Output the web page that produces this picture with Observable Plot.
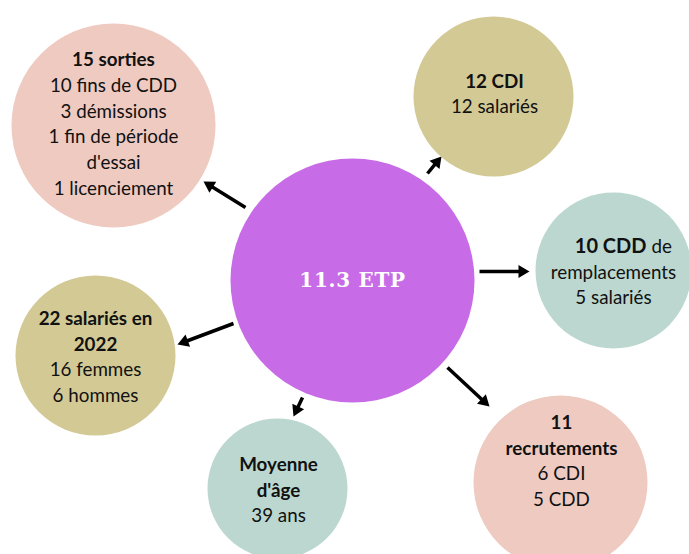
<!DOCTYPE html>
<html><head><meta charset="utf-8">
<script src="https://cdn.jsdelivr.net/npm/d3@7"></script>
<script src="https://cdn.jsdelivr.net/npm/@observablehq/plot@0.6"></script>
<style>body{margin:0;background:#fff}</style>
</head><body><div id="chart"></div>
<script>
// Nodes (bubbles)
const nodeIds   = ["centre", "sorties", "cdi", "cdd", "salaries", "age", "recrut"];
const nodeCx    = [352, 113, 493, 613, 95, 277, 560];
const nodeCy    = [280, 125, 96, 270, 355, 488, 482];
const nodeR     = [122, 102, 80, 78, 80, 70, 87];
const nodeFill  = ["#c76be6", "#eecac1", "#d2c995", "#bbd7cf", "#d2c995", "#bbd7cf", "#eecac1"];

// Text blocks: label lines per node, and whether each line is bold
const centreLabel = "11.3 ETP";
const textNodes = ["sorties", "cdi", "cdd", "salaries", "age", "recrut"];
const textLines = [
  ["15 sorties", "10 fins de CDD", "3 démissions", "1 fin de période", "d'essai", "1 licenciement"],
  ["12 CDI", "12 salariés"],
  ["10 CDD|de", "remplacements", "5 salariés"],
  ["22 salariés en", "2022", "16 femmes", "6 hommes"],
  ["Moyenne", "d'âge", "39 ans"],
  ["11", "recrutements", "6 CDI", "5 CDD"]
];
const textBold = [
  [1, 0, 0, 0, 0, 0],
  [1, 0],
  [2, 0, 0],
  [1, 1, 0, 0],
  [1, 1, 0],
  [1, 1, 0, 0]
];
const textCx = [113, 494, 613, 95, 278, 561];
const textCy = [124, 94, 272, 357, 490, 461];
const lineH = 25.8;

// Arrows from the centre to each bubble (tip at x2, y2)
const arrowX1 = [245, 427, 479, 233, 302, 447];
const arrowY1 = [207, 173, 271, 323, 397, 367];
const arrowX2 = [203, 441, 529, 177, 293, 489];
const arrowY2 = [181, 156, 271, 344, 416, 406];

const nodes = nodeIds.map((id, i) => ({id, x: nodeCx[i], y: nodeCy[i], r: nodeR[i], fill: nodeFill[i]}));
const headLen = 11, headHalf = 6.5;
const arrows = arrowX1.map((x1, i) => {
  const x2 = arrowX2[i], y2 = arrowY2[i], y1 = arrowY1[i];
  const dx = x2 - x1, dy = y2 - y1, L = Math.hypot(dx, dy);
  const ux = dx / L, uy = dy / L;
  return {x1, y1, x2, y2, lx: x2 - ux * (headLen - 1), ly: y2 - uy * (headLen - 1),
          rot: Math.atan2(dx, -dy) * 180 / Math.PI};
});
const lines = [];
textNodes.forEach((id, k) => {
  const n = textLines[k].length;
  textLines[k].forEach((t, i) => {
    lines.push({id, text: t, bold: textBold[k][i], x: textCx[k], y: textCy[k] + (i - (n - 1) / 2) * lineH});
  });
});
const mixed = lines.filter(d => d.bold === 2).map(d => {
  const [a, b] = d.text.split("|");
  return {a, b, x: d.x, y: d.y};
});

const triangle = {
  draw(context, l) {
    context.moveTo(0, -l);
    context.lineTo(-headHalf, 0);
    context.lineTo(headHalf, 0);
    context.closePath();
  }
};

const font = "Lato, 'Open Sans', sans-serif";
const fs = 18.8;
const chart = Plot.plot({
  width: 689, height: 554, margin: 0,
  x: {domain: [0, 689], axis: null},
  y: {domain: [0, 554], reverse: true, axis: null},
  r: {type: "identity"},
  marks: [
    Plot.link(arrows, {x1: "x1", y1: "y1", x2: "lx", y2: "ly", stroke: "#000", strokeWidth: 3.5}),
    Plot.vector(arrows, {x: "x2", y: "y2", rotate: "rot", length: headLen, anchor: "end", shape: triangle, fill: "#000", stroke: "none"}),
    Plot.dot(nodes, {x: "x", y: "y", r: "r", fill: "fill", stroke: "none"}),
    Plot.text([centreLabel], {x: () => nodeCx[0], y: () => nodeCy[0], text: d => d, fill: "#fff", fontSize: 20, fontWeight: "bold", fontFamily: "'DejaVu Serif', serif"}),
    Plot.text(lines.filter(d => d.bold === 1), {x: "x", y: "y", text: "text", fill: "#111", fontSize: fs, fontWeight: "bold", fontFamily: font}),
    Plot.text(lines.filter(d => d.bold === 0), {x: "x", y: "y", text: "text", fill: "#111", fontSize: fs, fontFamily: font}),
    Plot.text(mixed, {x: "x", y: "y", text: "a", textAnchor: "end", dx: 33, fill: "#111", fontSize: 20, fontWeight: "bold", fontFamily: font}),
    Plot.text(mixed, {x: "x", y: "y", text: "b", textAnchor: "start", dx: 38, fill: "#111", fontSize: fs, fontFamily: font})
  ]
});
d3.select(chart).selectAll("text").filter(function() { return this.textContent === centreLabel; }).attr("letter-spacing", 0.7);
document.getElementById("chart").appendChild(chart);
</script>
</body></html>
